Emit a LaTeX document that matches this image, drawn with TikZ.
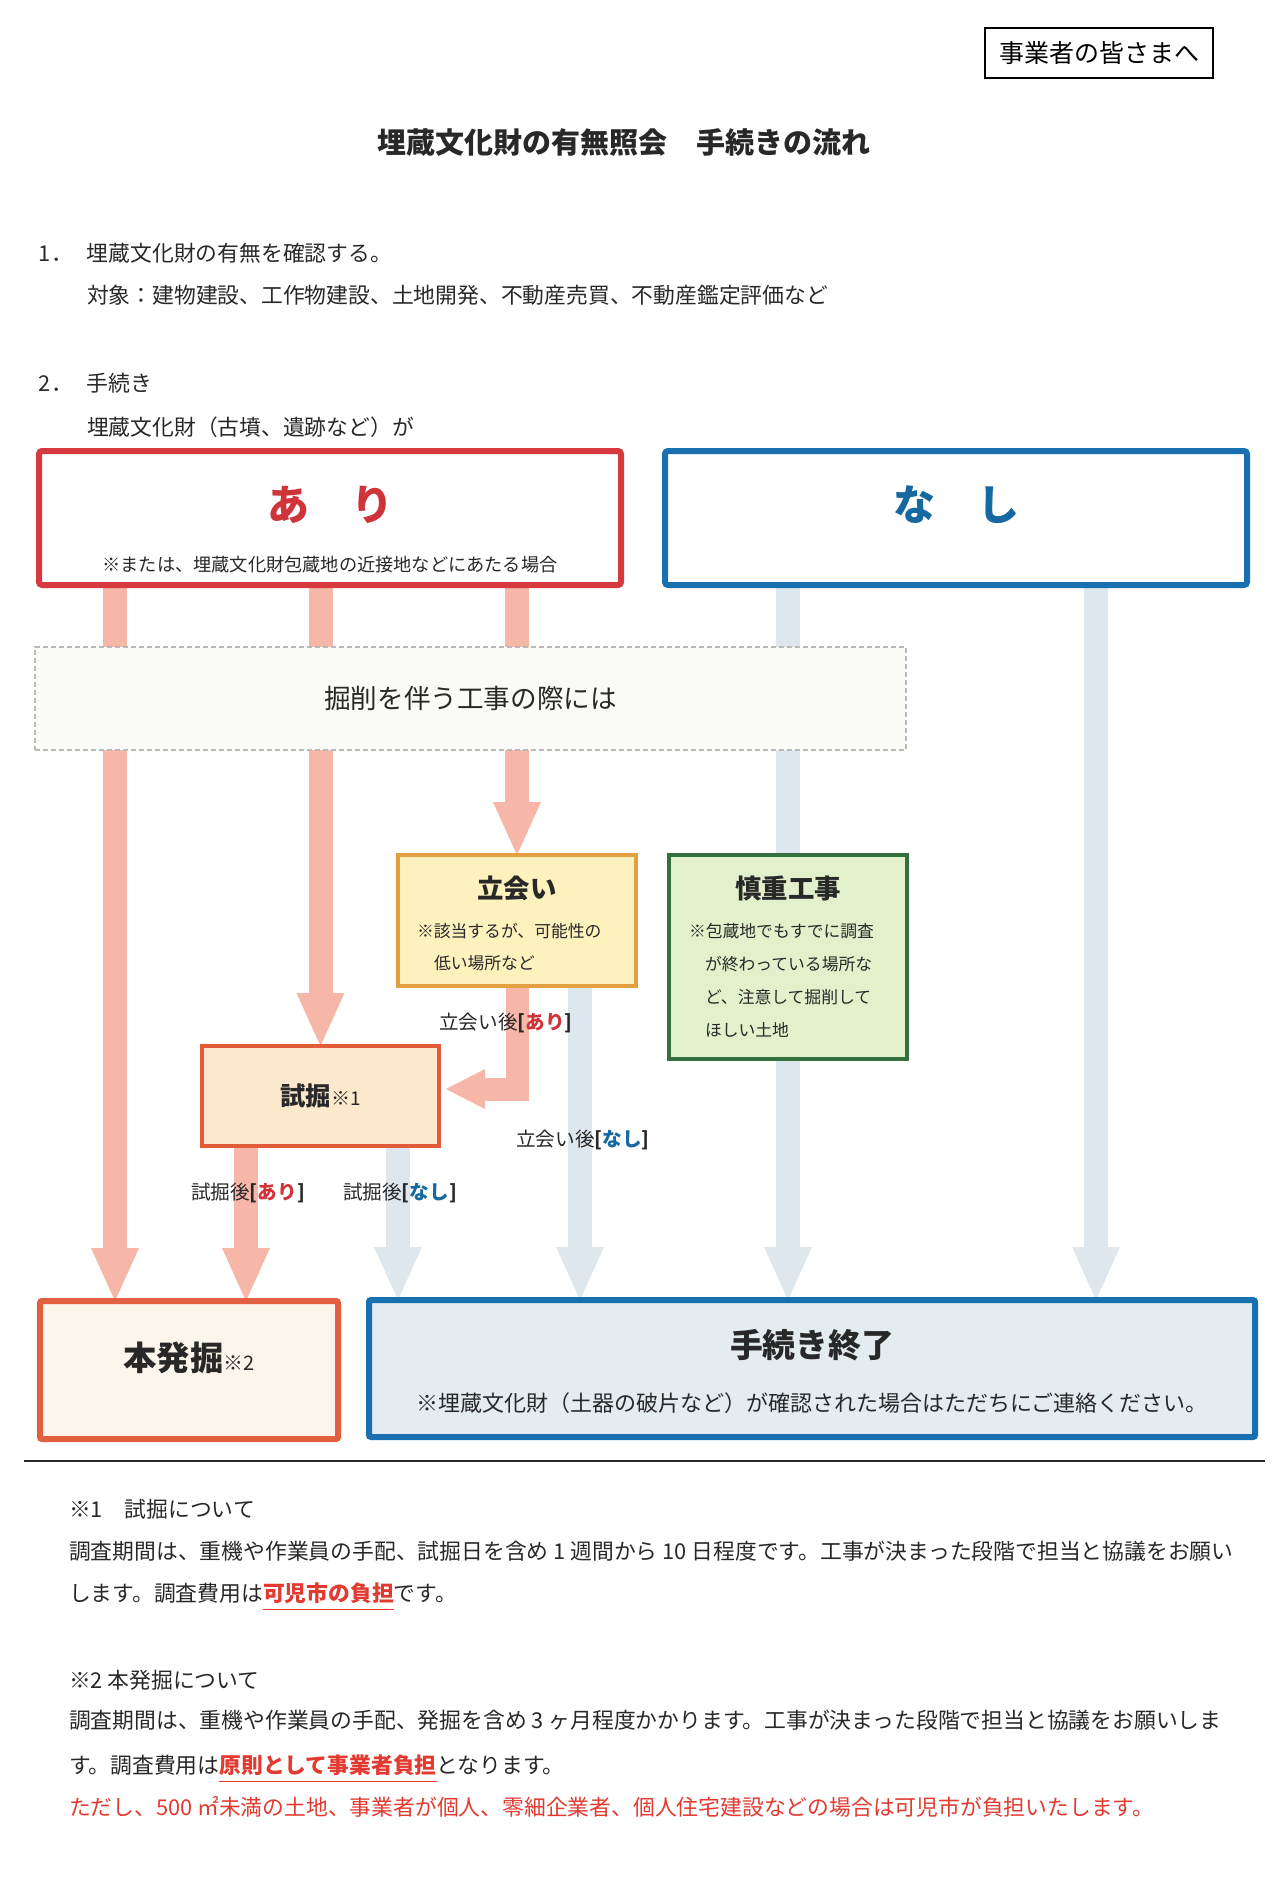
\documentclass[tikz,border=0pt]{standalone}
\usepackage{fontspec}
\setmainfont{Noto Sans CJK JP}
\usepackage{xcolor}
\usepackage{tikz}
\usetikzlibrary{positioning,arrows.meta,backgrounds}

\definecolor{inkgray}{RGB}{40,40,40}
\definecolor{arired}{RGB}{207,52,58}
\definecolor{aridraw}{RGB}{214,58,62}
\definecolor{nashiblue}{RGB}{24,112,176}
\definecolor{nashitext}{RGB}{22,104,160}
\definecolor{arrowpink}{RGB}{246,182,168}
\definecolor{arrowgray}{RGB}{221,231,237}
\definecolor{dashgray}{RGB}{185,185,185}
\definecolor{dashfill}{RGB}{250,250,247}
\definecolor{tachifill}{RGB}{253,241,190}
\definecolor{tachidraw}{RGB}{228,160,64}
\definecolor{shinfill}{RGB}{226,241,203}
\definecolor{shindraw}{RGB}{52,112,62}
\definecolor{shikfill}{RGB}{252,232,205}
\definecolor{shikdraw}{RGB}{226,92,58}
\definecolor{honfill}{RGB}{252,245,236}
\definecolor{hondraw}{RGB}{226,96,64}
\definecolor{shurfill}{RGB}{229,236,240}
\definecolor{notered}{RGB}{226,58,48}

\begin{document}
\begin{tikzpicture}[
				x=0.5pt, y=-0.5pt,
				every node/.style={inner sep=0pt, outer sep=0pt, text=inkgray,
						font=\fontsize{10.9pt}{13pt}\selectfont},
				bodytext/.style={anchor=west},
				signbox/.style={
						draw,
						line width=3pt,
						rounded corners=1.5pt,
						fill=white,
						minimum width=291pt,
						minimum height=67pt
					},
				stepbox/.style={draw, line width=1.8pt, minimum width=119pt},
				endbox/.style={draw, line width=3pt, rounded corners=1pt, minimum height=69pt},
				boxtitle/.style={font=\fontsize{13.2pt}{16pt}\selectfont\bfseries},
				boxnote/.style={anchor=west, align=left, font=\fontsize{8.4pt}{16.4pt}\selectfont},
				flowlabel/.style={font=\fontsize{9.8pt}{12pt}\selectfont},
				pinkarrow/.style={draw=arrowpink, line width=12pt,
						-{Triangle[width=24pt, length=26.5pt, line width=0pt]}},
				grayarrow/.style={draw=arrowgray, line width=12pt,
						-{Triangle[width=24pt, length=26.5pt, line width=0pt]}},
				pinkelbow/.style={draw=arrowpink, line width=11.5pt, line join=miter, shorten >=3.5pt,
						-{Triangle[width=20pt, length=19.5pt, line width=0pt]}}
			]
		\useasboundingbox (0,0) rectangle (1280,1903);

		% Heading
		\node[draw, line width=0.75pt, text=black, minimum width=114pt, minimum height=25pt,
			font=\fontsize{12.5pt}{15pt}\selectfont] (audience) at (1099,53) {事業者の皆さまへ};
		\node[font=\fontsize{14.5pt}{17pt}\selectfont\bfseries] (title) at (624,142) {埋蔵文化財の有無照会　手続きの流れ};

		\node[bodytext] (item1) at (39,253) {\makebox[24pt][l]{1．}埋蔵文化財の有無を確認する。};
		\node[bodytext] (targets) at (87,295) {対象：建物建設、工作物建設、土地開発、不動産売買、不動産鑑定評価など};
		\node[bodytext] (item2) at (39,383) {\makebox[24pt][l]{2．}手続き};
		\node[bodytext] (lead) at (87,427) {埋蔵文化財（古墳、遺跡など）が};

		% Yes / no boxes
		\node[signbox, draw=aridraw] (ari) at (330,518) {};
		\node[font=\fontsize{21pt}{24pt}\selectfont\bfseries, text=arired] (ari-label) at ([yshift=6.5pt]ari.center) {あ　り};
		\node[font=\fontsize{9.1pt}{11pt}\selectfont] (ari-note) at ([yshift=-23.5pt]ari.center) {※または、埋蔵文化財包蔵地の近接地などにあたる場合};
		\node[signbox, draw=nashiblue] (nashi) at (956,518) {};
		\node[font=\fontsize{21pt}{24pt}\selectfont\bfseries, text=nashitext] (nashi-label) at ([yshift=6.5pt]nashi.center) {な　し};

		\node[draw=dashgray, dash pattern=on 2.5pt off 1.5pt, line width=0.6pt, fill=dashfill,
			minimum width=435.5pt, minimum height=51.5pt,
			font=\fontsize{13.3pt}{16pt}\selectfont] (kussaku) at (470.5,698.5) {掘削を伴う工事の際には};

		% Middle steps
		\node[stepbox, draw=tachidraw, fill=tachifill, minimum height=65.5pt] (tachiai) at (517,920.5) {};
		\node[boxtitle] (tachiai-title) at ([yshift=16.25pt]tachiai.center) {立会い};
		\node[boxnote] (tachiai-note) at ([xshift=9.5pt,yshift=-13.25pt]tachiai.west)
		{※該当するが、可能性の\\\hspace*{8.5pt}低い場所など};

		\node[stepbox, draw=shindraw, fill=shinfill, minimum height=102pt] (shincho) at (788,957) {};
		\node[boxtitle] (shincho-title) at ([yshift=34.5pt]shincho.center) {慎重工事};
		\node[boxnote] (shincho-note) at ([xshift=10pt,yshift=-11.75pt]shincho.west)
		{※包蔵地でもすでに調査\\\hspace*{8pt}が終わっている場所な\\\hspace*{8pt}ど、注意して掘削して\\\hspace*{8pt}ほしい土地};

		\node[stepbox, draw=shikdraw, fill=shikfill, minimum width=118.5pt, minimum height=50pt,
			font=\fontsize{12.7pt}{15pt}\selectfont] (shikutsu) at (320.5,1096) {\textbf{試掘}{\fontsize{9.5pt}{11pt}\selectfont ※1}};

		% Final boxes
		\node[endbox, draw=hondraw, fill=honfill, minimum width=149pt] (honkussu) at (189,1370) {};
		\node[font=\fontsize{16.7pt}{20pt}\selectfont] (honkussu-label) at ([yshift=6pt]honkussu.center)
		{\textbf{本発掘}{\fontsize{10pt}{12pt}\selectfont ※2}};
		\node[endbox, draw=nashiblue, fill=shurfill, minimum width=443pt, minimum height=68.5pt] (shuryo) at (812,1368.5) {};
		\node[font=\fontsize{16.4pt}{20pt}\selectfont\bfseries] (shuryo-title) at ([yshift=11.75pt]shuryo.center) {手続き終了};
		\node[font=\fontsize{11pt}{13pt}\selectfont] (shuryo-note) at ([yshift=-17.25pt]shuryo.center)
		{※埋蔵文化財（土器の破片など）が確認された場合はただちにご連絡ください。};

		% Arrow columns
		\coordinate (colA) at (115,0);
		\coordinate (colE) at (1096,0);
		\coordinate (colF) at (246,0);
		\coordinate (colG) at (398,0);
		\coordinate (colH) at (580,0);

		\begin{scope}[on background layer]
			\draw[pinkarrow] (ari.south -| colA) -- (honkussu.north -| colA);
			\draw[pinkarrow] (ari.south -| shikutsu.north) -- (shikutsu.north);
			\draw[pinkarrow] (ari.south -| tachiai.north) -- (tachiai.north);
			\draw[pinkarrow] (shikutsu.south -| colF) -- (honkussu.north -| colF);
			\draw[pinkelbow] (tachiai.south) |- ([yshift=3.5pt]shikutsu.east);
			\foreach \src/\col in {nashi/shincho, nashi/colE, tachiai/colH, shikutsu/colG} {
					\draw[grayarrow] (\src.south -| \col) -- (shuryo.north -| \col);
				}
		\end{scope}

		% Arrow labels
		\node[flowlabel] (tachiai-yes) at (506,1023) {立会い後\textbf{[\textcolor{arired}{あり}]}};
		\node[flowlabel] (tachiai-no) at (583,1140) {立会い後\textbf{[\textcolor{nashitext}{なし}]}};
		\node[flowlabel] (shikutsu-yes) at (248,1193) {試掘後\textbf{[\textcolor{arired}{あり}]}};
		\node[flowlabel] (shikutsu-no) at (400,1193) {試掘後\textbf{[\textcolor{nashitext}{なし}]}};

		% Footnotes
		\draw[inkgray, line width=1pt] (24,1461) -- (1265,1461);

		\node[bodytext] (note1-head) at (69,1509) {※1　試掘について};
		\node[bodytext] (note1-a) at (69,1551) {調査期間は、重機や作業員の手配、試掘日を含め 1 週間から 10 日程度です。工事が決まった段階で担当と協議をお願い};
		\node[bodytext] (note1-b) at (69,1593) {します。調査費用は};
		\node[anchor=base west, text=notered, font=\fontsize{10.9pt}{13pt}\selectfont\bfseries] (kani) at (note1-b.base east) {可児市の負担};
		\node[anchor=base west] (note1-c) at (kani.base east) {です。};
		\draw[notered, line width=0.9pt] ([yshift=-3pt]kani.south west) -- ([yshift=-3pt]kani.south east);

		\node[bodytext] (note2-head) at (69,1680) {※2 本発掘について};
		\node[bodytext] (note2-a) at (69,1720) {調査期間は、重機や作業員の手配、発掘を含め 3 ヶ月程度かかります。工事が決まった段階で担当と協議をお願いしま};
		\node[bodytext] (note2-b) at (69,1765) {す。調査費用は};
		\node[anchor=base west, text=notered, font=\fontsize{10.9pt}{13pt}\selectfont\bfseries] (gensoku) at (note2-b.base east) {原則として事業者負担};
		\node[anchor=base west] (note2-c) at (gensoku.base east) {となります。};
		\draw[notered, line width=0.9pt] ([yshift=-3pt]gensoku.south west) -- ([yshift=-3pt]gensoku.south east);
		\node[bodytext, text=notered] (note2-d) at (69,1807) {ただし、500 ㎡未満の土地、事業者が個人、零細企業者、個人住宅建設などの場合は可児市が負担いたします。};
	\end{tikzpicture}
\end{document}
